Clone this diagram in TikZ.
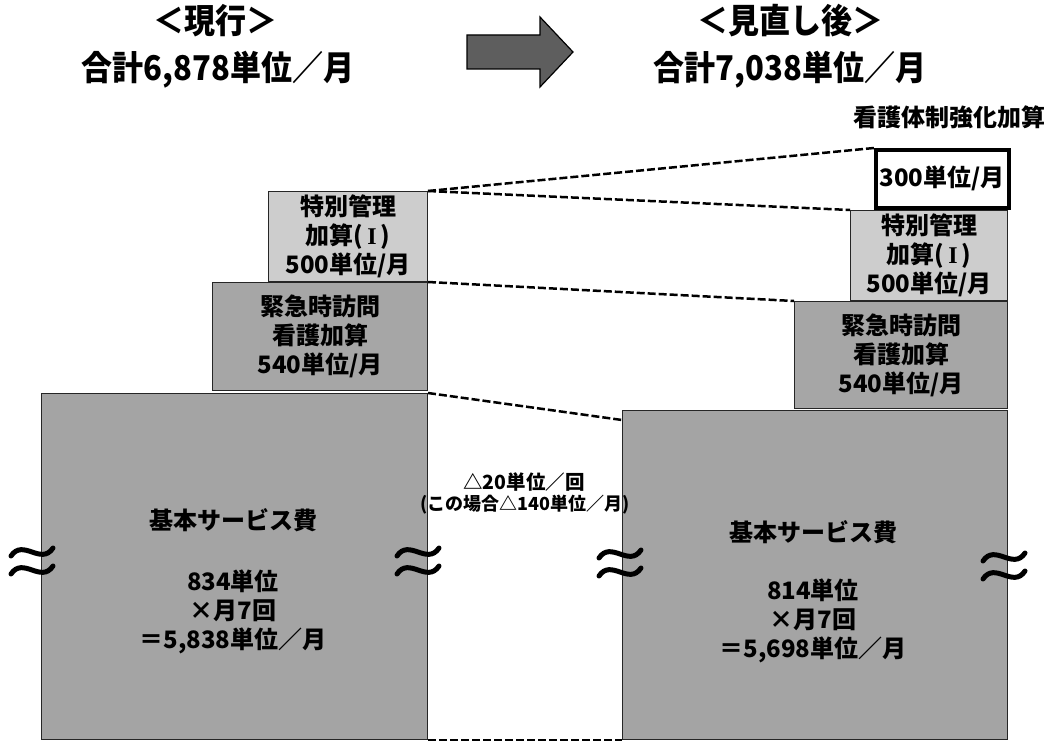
\documentclass[tikz,border=0pt]{standalone}
\usepackage{fontspec}
\setmainfont{Noto Sans CJK JP}
\newfontfamily\serifI{Liberation Serif}
\definecolor{tokgray}{HTML}{CDCDCD}
\definecolor{kingray}{HTML}{A6A6A6}
\definecolor{basegray}{HTML}{A4A4A4}
\definecolor{arrowgray}{HTML}{5E5E5E}
\newcommand\romanone{(\,{\serifI\bfseries I}\,)}
\begin{document}
\begin{tikzpicture}[x=1pt,y=-1pt,
  title/.style={font=\bfseries\fontsize{31}{36}\selectfont, inner sep=0pt, yscale=1.1, transform shape},
  box/.style={draw=black!85, line width=1pt, anchor=north west, inner sep=0pt, align=center,
              font=\bfseries\fontsize{24}{29}\selectfont},
  lbl/.style={font=\bfseries\fontsize{24}{29}\selectfont, align=center, inner sep=0pt},
  note/.style={font=\bfseries\fontsize{19.5}{23}\selectfont, inner sep=0pt},
  link/.style={line width=2.5pt, dash pattern=on 8pt off 3pt},
  wave/.style={line width=5pt, line cap=round},
  approx/.pic={
    \draw[wave] (-21,-5) .. controls (-9,-23) and (9,5) .. (21,-13);
    \draw[wave] (-21,13) .. controls (-9,-5) and (9,23) .. (21,5);
  }]
\useasboundingbox (0,0) rectangle (1054,741);

% titles
\node[title] (t1) at (215,21) {＜現行＞};
\node[title] (t2) at (218,70) {合計6,878単位／月};
\node[title] (t3) at (790,21) {＜見直し後＞};
\node[title] (t4) at (790,70) {合計7,038単位／月};
\filldraw[fill=arrowgray, draw=black, line width=1.2pt]
  (467,35) -- (540,35) -- (540,17) -- (573,52) -- (540,87) -- (540,69) -- (467,69) -- cycle;

\node[font=\bfseries\fontsize{24}{28}\selectfont, inner sep=0pt, anchor=east] (kyoka) at (1046,117) {看護体制強化加算};

% left column
\node[box, fill=tokgray, minimum width=159pt, minimum height=90pt] (ltok) at (268,191)
  {特別管理\\加算\romanone\\500単位/月};
\node[box, fill=kingray, minimum width=215pt, minimum height=108pt] (lkin) at (212,282)
  {緊急時訪問\\看護加算\\540単位/月};
\node[box, fill=basegray, minimum width=386pt, minimum height=346pt] (lbase) at (41,393) {};
\node[lbl] (lb1) at (233,520) {基本サービス費};
\node[lbl] (lb2) at (233,612) {834単位\\×月7回\\＝5,838単位／月};

% right column
\node[box, line width=3.5pt, draw=black, fill=white, minimum width=133pt, minimum height=58pt] (r300) at (874,148)
  {300単位/月};
\node[box, fill=tokgray, minimum width=157pt, minimum height=90pt] (rtok) at (850,210)
  {特別管理\\加算\romanone\\500単位/月};
\node[box, fill=kingray, minimum width=213pt, minimum height=107pt] (rkin) at (794,301)
  {緊急時訪問\\看護加算\\540単位/月};
\node[box, fill=basegray, minimum width=385pt, minimum height=329pt] (rbase) at (622,410) {};
\node[lbl] (rb1) at (813,532) {基本サービス費};
\node[lbl] (rb2) at (813,621) {814単位\\×月7回\\＝5,698単位／月};

% middle note
\node[note] (m1) at (524,482) {△20単位／回};
\node[note, font=\bfseries\fontsize{18}{22}\selectfont] (m2) at (525,505) {(この場合△140単位／月)};

% dashed connectors
\draw[link] (ltok.north east) -- (r300.north west);
\draw[link] (ltok.north east) -- (rtok.north west);
\draw[link] (ltok.south east) -- (rkin.north west);
\draw[link] (lbase.north east) -- ([yshift=-10pt]rbase.north west);
\draw[link] (lbase.south east) -- (rbase.south west);

% break marks
\pic at (32,561) {approx};
\pic at (418,561) {approx};
\pic at (620,563) {approx};
\pic at (1004,566) {approx};
\end{tikzpicture}
\end{document}
